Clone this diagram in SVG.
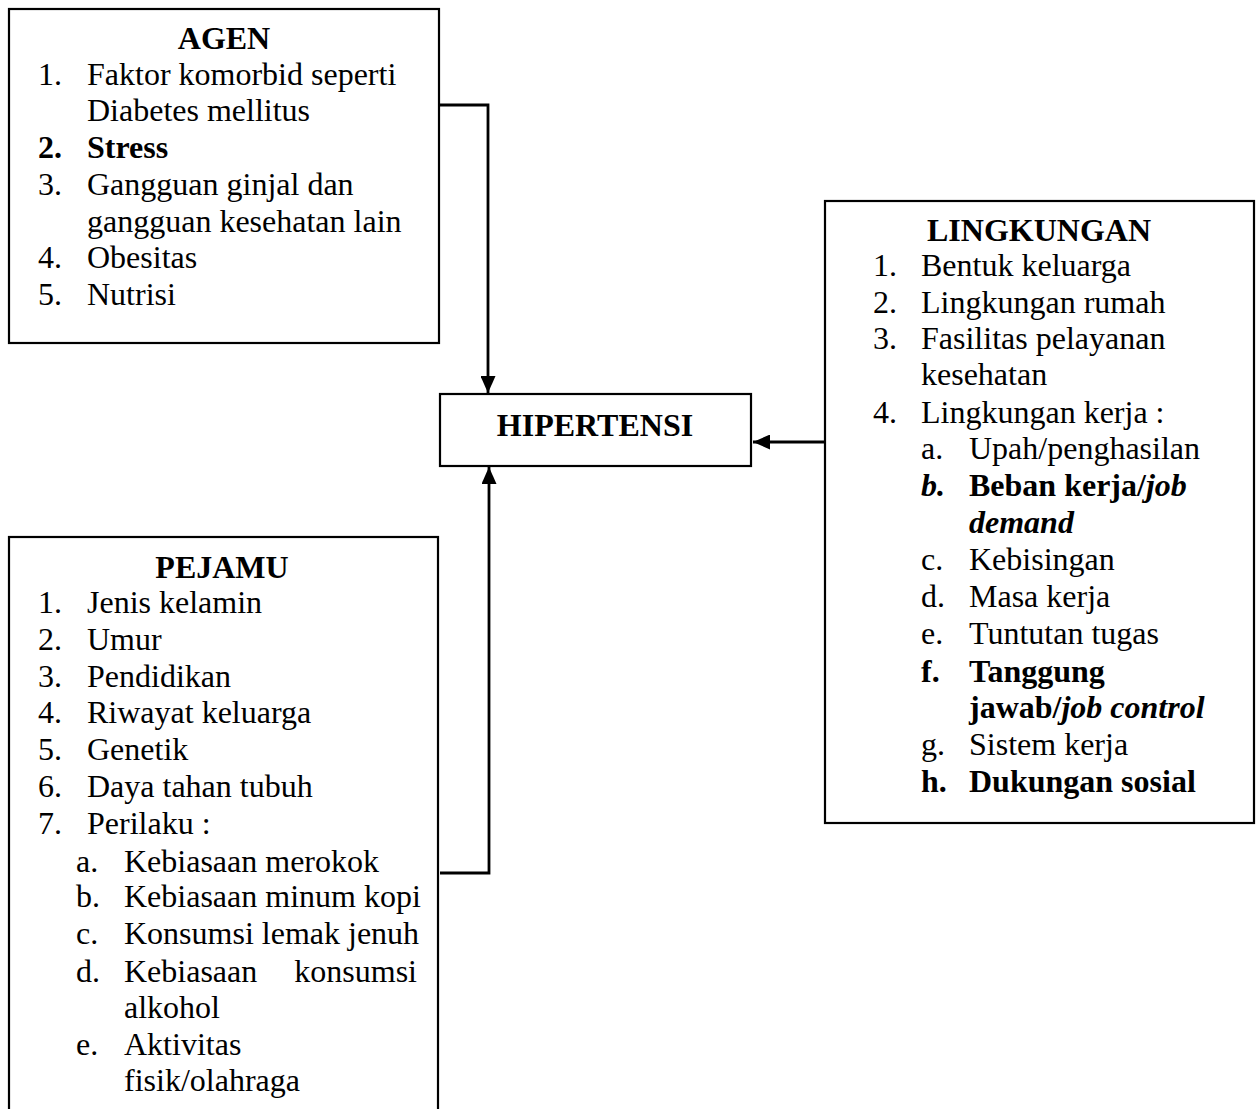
<svg xmlns="http://www.w3.org/2000/svg" width="1260" height="1109" viewBox="0 0 1260 1109">
<style>
.box{fill:#fff;stroke:#000;stroke-width:2.2}
text{font-family:"Liberation Serif","Times New Roman",serif;font-size:32px;fill:#000}
.t{font-weight:bold;text-anchor:middle}
.b{font-weight:bold}
.bi{font-weight:bold;font-style:italic}
.c{fill:none;stroke:#000;stroke-width:2.8}
</style>
<defs>
<marker id="ah" markerWidth="17" markerHeight="15" refX="17" refY="7.5" orient="auto" markerUnits="userSpaceOnUse">
<path d="M0,0 L17,7.5 L0,15 Z" fill="#000"/>
</marker>
</defs>
<rect width="1260" height="1109" fill="#fff"/>
<g id="connectors">
<path class="c" d="M440,105 H488 V393" marker-end="url(#ah)"/>
<path class="c" d="M440,873 H489 V467" marker-end="url(#ah)"/>
<path class="c" d="M825,442 H753" marker-end="url(#ah)"/>
</g>
<g id="agen">
<rect class="box" x="9" y="9" width="430" height="334"/>
<text class="t" x="224" y="49">AGEN</text>
<text x="38" y="85">1.</text><text x="87" y="85">Faktor komorbid seperti</text>
<text x="87" y="121">Diabetes mellitus</text>
<text class="b" x="38" y="158">2.</text><text class="b" x="87" y="158">Stress</text>
<text x="38" y="195">3.</text><text x="87" y="195">Gangguan ginjal dan</text>
<text x="87" y="232">gangguan kesehatan lain</text>
<text x="38" y="268">4.</text><text x="87" y="268">Obesitas</text>
<text x="38" y="305">5.</text><text x="87" y="305">Nutrisi</text>
</g>
<g id="hipertensi">
<rect class="box" x="440" y="394" width="311" height="72"/>
<text class="t" x="595" y="436">HIPERTENSI</text>
</g>
<g id="lingkungan">
<rect class="box" x="825" y="201" width="429" height="622"/>
<text class="t" x="1039" y="241">LINGKUNGAN</text>
<text x="873" y="276">1.</text><text x="921" y="276">Bentuk keluarga</text>
<text x="873" y="313">2.</text><text x="921" y="313">Lingkungan rumah</text>
<text x="873" y="349">3.</text><text x="921" y="349">Fasilitas pelayanan</text>
<text x="921" y="385">kesehatan</text>
<text x="873" y="423">4.</text><text x="921" y="423">Lingkungan kerja :</text>
<text x="921" y="459">a.</text><text x="969" y="459">Upah/penghasilan</text>
<text class="bi" x="921" y="496">b.</text><text class="b" x="969" y="496">Beban kerja/<tspan font-style="italic">job</tspan></text>
<text class="bi" x="969" y="533">demand</text>
<text x="921" y="570">c.</text><text x="969" y="570">Kebisingan</text>
<text x="921" y="607">d.</text><text x="969" y="607">Masa kerja</text>
<text x="921" y="644">e.</text><text x="969" y="644">Tuntutan tugas</text>
<text class="b" x="921" y="682">f.</text><text class="b" x="969" y="682">Tanggung</text>
<text class="b" x="969" y="718">jawab/<tspan font-style="italic">job control</tspan></text>
<text x="921" y="755">g.</text><text x="969" y="755">Sistem kerja</text>
<text class="b" x="921" y="792">h.</text><text class="b" x="969" y="792">Dukungan sosial</text>
</g>
<g id="pejamu">
<rect class="box" x="9" y="537" width="429" height="590"/>
<text class="t" x="222" y="578">PEJAMU</text>
<text x="38" y="613">1.</text><text x="87" y="613">Jenis kelamin</text>
<text x="38" y="650">2.</text><text x="87" y="650">Umur</text>
<text x="38" y="687">3.</text><text x="87" y="687">Pendidikan</text>
<text x="38" y="723">4.</text><text x="87" y="723">Riwayat keluarga</text>
<text x="38" y="760">5.</text><text x="87" y="760">Genetik</text>
<text x="38" y="797">6.</text><text x="87" y="797">Daya tahan tubuh</text>
<text x="38" y="834">7.</text><text x="87" y="834">Perilaku :</text>
<text x="76" y="872">a.</text><text x="124" y="872">Kebiasaan merokok</text>
<text x="76" y="907">b.</text><text x="124" y="907">Kebiasaan minum kopi</text>
<text x="76" y="944">c.</text><text x="124" y="944">Konsumsi lemak jenuh</text>
<text x="76" y="982">d.</text><text x="124" y="982">Kebiasaan</text><text x="417" y="982" text-anchor="end">konsumsi</text>
<text x="124" y="1018">alkohol</text>
<text x="76" y="1055">e.</text><text x="124" y="1055">Aktivitas</text>
<text x="124" y="1091">fisik/olahraga</text>
</g>
</svg>
